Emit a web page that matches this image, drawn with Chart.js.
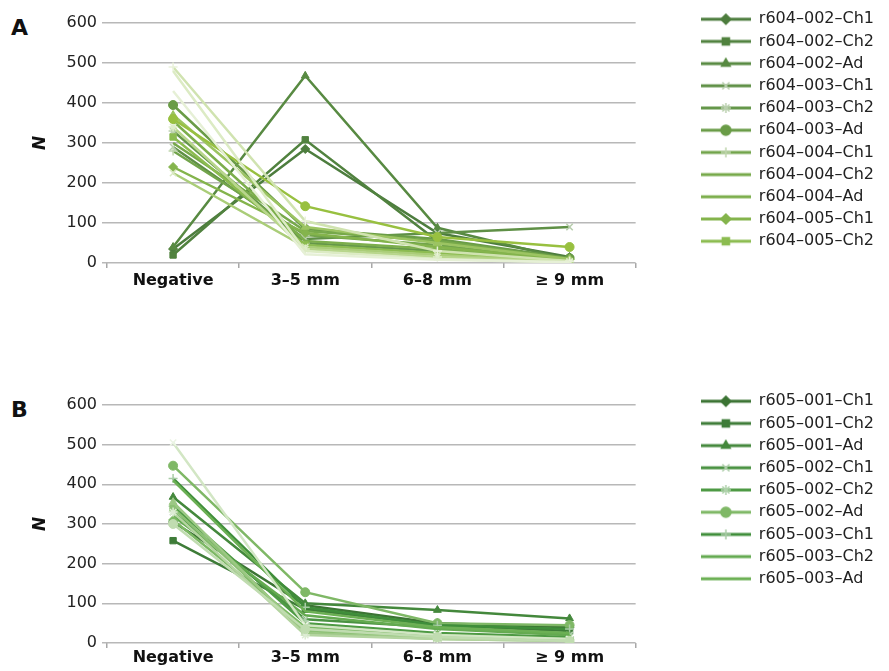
<!DOCTYPE html>
<html>
<head>
<meta charset="utf-8">
<script src="https://cdn.jsdelivr.net/npm/chart.js@4.4.0/dist/chart.umd.min.js"></script>
<style>
  html, body { margin: 0; padding: 0; background: #fff; }
  body { width: 889px; height: 671px; position: relative; overflow: hidden; }
  .panel { position: absolute; left: 0; width: 889px; }
  .letter { position: absolute; left: 11px; font: bold 22px "DejaVu Sans", sans-serif; color: #111; }
</style>
</head>
<body>
<div class="letter" style="top:15px">A</div>
<div class="panel" style="top:0;height:300px"><canvas id="chartA"></canvas></div>
<div class="letter" style="top:397px">B</div>
<div class="panel" style="top:382px;height:289px"><canvas id="chartB"></canvas></div>

<script>
// categories on the x axis
const categories = ['Negative', '3–5 mm', '6–8 mm', '\u2265 9 mm'];

// panel A series (only the first 11 are listed in the legend)
const namesA = [
  'r604–002–Ch1', 'r604–002–Ch2', 'r604–002–Ad',
  'r604–003–Ch1', 'r604–003–Ch2', 'r604–003–Ad',
  'r604–004–Ch1', 'r604–004–Ch2', 'r604–004–Ad',
  'r604–005–Ch1', 'r604–005–Ch2', 'r604–005–Ad',
  'r604–006–Ch1', 'r604–006–Ch2', 'r604–006–Ad',
  'r604–007–Ch1', 'r604–007–Ch2', 'r604–007–Ad'
];
const valuesA = [
  [35, 285, 75, 15],
  [20, 308, 55, 12],
  [40, 468, 88, 8],
  [290, 60, 75, 90],
  [330, 50, 30, 10],
  [395, 85, 60, 12],
  [280, 70, 45, 5],
  [300, 80, 55, 10],
  [355, 55, 35, 5],
  [240, 75, 40, 8],
  [315, 45, 25, 5],
  [370, 90, 50, 10],
  [225, 40, 20, 3],
  [340, 35, 15, 3],
  [360, 142, 65, 40],
  [490, 105, 30, 5],
  [480, 30, 10, 2],
  [430, 22, 8, 2]
];
const legendCountA = 11;

// panel B series (only the first 9 are listed in the legend)
const namesB = [
  'r605–001–Ch1', 'r605–001–Ch2', 'r605–001–Ad',
  'r605–002–Ch1', 'r605–002–Ch2', 'r605–002–Ad',
  'r605–003–Ch1', 'r605–003–Ch2', 'r605–003–Ad',
  'r605–004–Ch1', 'r605–004–Ch2', 'r605–004–Ad',
  'r605–005–Ch1', 'r605–005–Ch2', 'r605–005–Ad'
];
const valuesB = [
  [305, 95, 50, 40],
  [258, 85, 45, 30],
  [368, 100, 83, 62],
  [330, 60, 40, 20],
  [345, 50, 25, 15],
  [447, 128, 50, 45],
  [415, 90, 45, 35],
  [320, 70, 35, 20],
  [410, 80, 40, 25],
  [310, 40, 20, 10],
  [340, 30, 15, 8],
  [355, 25, 10, 5],
  [505, 45, 20, 10],
  [330, 20, 10, 5],
  [300, 35, 15, 5]
];
const legendCountB = 9;

// styling
const colorsA = ['#4d7d3e', '#51823f', '#588a42', '#5f9046', '#65974a', '#6a9c47', '#72a44b', '#77a94a', '#7cae4c',
                 '#84b44c', '#8cbc50', '#9cc462', '#aacd78', '#b8d68c', '#98c040', '#d0e3b0', '#dcebc4', '#e6f0d6'];
const colorsB = ['#3c7434', '#3e7c38', '#44883c', '#4a9242', '#4e9a44', '#7fb866', '#3f8e3a', '#64aa50', '#6cb054',
                 '#7cb864', '#8cc074', '#9cc884', '#d2e6c4', '#b4d4a0', '#c0dcb0'];
const markers = ['rectRot', 'rect', 'triangle', 'crossRot', 'star', 'circle', 'cross', null, null];
const fontFamily = '"DejaVu Sans", sans-serif';

function pale(hex) {
  const n = parseInt(hex.slice(1), 16);
  const mix = c => Math.round(c + (255 - c) * 0.55);
  return 'rgb(' + mix(n >> 16) + ',' + mix((n >> 8) & 255) + ',' + mix(n & 255) + ')';
}

function legendImage(color, style) {
  const c = document.createElement('canvas');
  c.width = 50; c.height = 14;
  const g = c.getContext('2d');
  g.strokeStyle = color; g.fillStyle = color; g.lineWidth = 3;
  g.beginPath(); g.moveTo(0, 7); g.lineTo(50, 7); g.stroke();
  if (style) {
    const thin = /cross|star/.test(style);
    g.strokeStyle = thin ? pale(color) : color;
    g.lineWidth = 1.5;
    Chart.helpers.drawPoint(g, { pointStyle: style, radius: 5, borderWidth: 1.5, rotation: 0 }, 25, 7);
  }
  return c;
}

function makeChart(id, names, values, colors, legendCount, axisHeight, tickPad) {
  const n = names.length;
  const datasets = names.map((name, i) => {
    const style = markers[i % markers.length];
    const thin = style && /cross|star/.test(style);
    return {
      label: name,
      data: values[i],
      borderColor: colors[i],
      backgroundColor: colors[i],
      pointBorderColor: thin ? pale(colors[i]) : colors[i],
      borderWidth: 2.5,
      pointStyle: style || 'circle',
      pointRadius: style ? 4.5 : 0,
      pointBorderWidth: thin ? 1.5 : 1,
      tension: 0,
      order: n - i
    };
  });
  const imgs = names.map((_, i) => legendImage(colors[i], markers[i % markers.length]));

  return new Chart(document.getElementById(id), {
    type: 'line',
    data: { labels: categories, datasets: datasets },
    options: {
      responsive: true,
      maintainAspectRatio: false,
      animation: false,
      layout: { padding: { top: 5, right: 5, bottom: 0, left: 0 } },
      scales: {
        x: {
          offset: true,
          grid: { offset: true, drawOnChartArea: false, tickLength: 5, color: '#a8a8a8', lineWidth: 1.5 },
          border: { display: false },
          ticks: { color: '#111', font: { family: fontFamily, size: 16, weight: 'bold' }, padding: tickPad, maxRotation: 0, autoSkip: false },
          afterFit: s => { s.height = axisHeight; }
        },
        y: {
          min: 0, max: 600,
          ticks: { stepSize: 100, color: '#222', font: { family: fontFamily, size: 16 }, padding: 5 },
          grid: { color: '#b8b8b8', lineWidth: 1.5, tickLength: 5 },
          border: { display: false },
          title: { display: true, text: 'N', color: '#111', font: { family: fontFamily, size: 17, weight: 'bold', style: 'italic' }, padding: { top: 30, bottom: 0 } },
          afterFit: s => { s.width = 107; }
        },
        gap: {
          type: 'linear', position: 'right',
          grid: { display: false }, ticks: { display: false }, border: { display: false },
          afterFit: s => { s.width = 59; }
        }
      },
      plugins: {
        title: { display: true, text: ' ', fullSize: false, font: { size: 10 }, padding: { top: 0, bottom: 6 } },
        tooltip: { enabled: false },
        legend: {
          position: 'right',
          align: 'start',
          maxWidth: 220,
          labels: {
            usePointStyle: true,
            pointStyleWidth: 50,
            boxHeight: 14,
            padding: 6.2,
            color: '#222',
            font: { family: fontFamily, size: 16 },
            sort: (a, b) => a.datasetIndex - b.datasetIndex,
            filter: item => item.datasetIndex < legendCount,
            generateLabels: chart => {
              const items = Chart.defaults.plugins.legend.labels.generateLabels(chart);
              items.forEach(it => { it.pointStyle = imgs[it.datasetIndex]; });
              return items;
            }
          }
        }
      }
    }
  });
}

makeChart('chartA', namesA, valuesA, colorsA, legendCountA, 37, 3);
makeChart('chartB', namesB, valuesB, colorsB, legendCountB, 28, 0);
</script>
</body>
</html>
